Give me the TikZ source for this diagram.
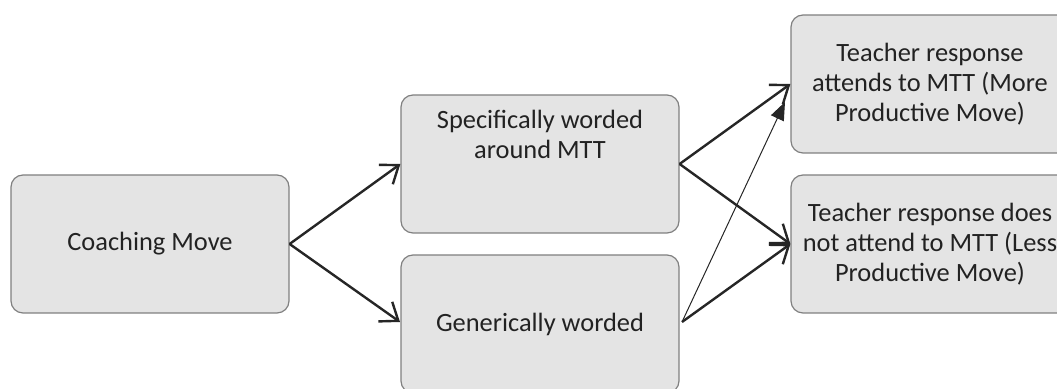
\documentclass[tikz,border=0pt]{standalone}
\usepackage{fontspec}
\setmainfont{Carlito}
\usetikzlibrary{arrows.meta}
\definecolor{boxfill}{HTML}{E4E4E4}
\definecolor{boxline}{HTML}{808080}
\definecolor{txt}{HTML}{222222}
\begin{document}
\begin{tikzpicture}[x=0.5pt,y=-0.5pt,
  box/.style={draw=boxline, line width=0.6pt, fill=boxfill, rounded corners=6pt,
    minimum width=139pt, minimum height=69pt, inner sep=0pt, text=txt,
    font=\fontsize{13.2}{15}\selectfont, align=center},
  arr/.style={draw=black!85, line width=1.2pt, -{Straight Barb[length=8pt,width=12pt,line width=1.2pt]}},
  thin/.style={draw=black!85, line width=0.5pt, -{Triangle[length=9pt,width=7pt]}}]
\useasboundingbox (0,0) rectangle (1057,389);
\clip (0,0) rectangle (1057,389);
\node[box] (cm) at (150,244) {Coaching Move};
\node[box] (sp) at (540,164) {Specifically worded\\around MTT\\[15pt]};
\node[box] (ge) at (540,324) {Generically worded};
\node[box] (mp) at (930,84) {Teacher response\\attends to MTT (More\\Productive Move)};
\node[box] (lp) at (930,244) {Teacher response does\\not attend to MTT (Less\\Productive Move)};
\coordinate (gs) at (682,322);
\coordinate (te) at (785,102);
\draw[arr] (cm.east) -- (sp.west);
\draw[arr] (cm.east) -- (400,322);
\draw[arr] (sp.east) -- (mp.west);
\draw[arr] (sp.east) -- (lp.west);
\draw[arr] (gs) -- (lp.west);
\draw[thin] (gs) -- (te);
\end{tikzpicture}
\end{document}
